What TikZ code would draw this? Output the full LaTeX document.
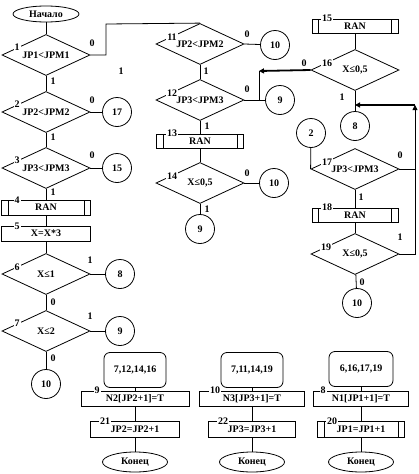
\documentclass[tikz,border=0pt]{standalone}
\usepackage{fontspec}
\setmainfont{Liberation Serif}
\usetikzlibrary{shapes.geometric, arrows.meta, positioning}

\begin{document}
\begin{tikzpicture}[
  x=1pt, y=-1pt, line width=0.8pt,
  every node/.style={font=\bfseries\fontsize{10}{12}\selectfont},
  decision/.style={diamond, draw, aspect=2.15, minimum width=88pt,
                   minimum height=41pt, inner sep=0pt},
  connector/.style={circle, draw, minimum size=29pt, inner sep=0pt},
  procbox/.style={rectangle, draw, minimum width=89pt, minimum height=15pt, inner sep=0pt},
  ranbox/.style={procbox, path picture={
      \draw ([xshift=6.5pt]path picture bounding box.north west) -- ([xshift=6.5pt]path picture bounding box.south west);
      \draw ([xshift=-6.5pt]path picture bounding box.north east) -- ([xshift=-6.5pt]path picture bounding box.south east);}},
  listbox/.style={rectangle, rounded corners=6pt, draw, minimum width=62pt, minimum height=35pt},
  terminal/.style={ellipse, draw, minimum width=65pt, minimum height=20pt, inner sep=0pt},
  num/.style={fill=white, inner sep=1pt},
  arrow/.style={line width=1.8pt, -{Triangle[length=5pt, width=5pt]}},
  uparrow/.style={-{Triangle[length=5pt, width=5pt]}}
]
\useasboundingbox (0,0) rectangle (418,474);

%--- Left column ---%
\node[terminal, minimum width=66pt, minimum height=16pt] (start) at (46,14) {Начало};
\node[decision] (d1) at (46,55)  {JP1<JPM1};
\node[decision] (d2) at (46,112) {JP2<JPM2};
\node[decision] (d3) at (46,168) {JP3<JPM3};
\node[ranbox]   (b4) at (46,207.5) {RAN};
\node[procbox]  (b5) at (46,233.5) {X=X*3};
\node[decision] (d6) at (46,274) {X≤1};
\node[decision] (d7) at (46,331) {X≤2};
\node[connector] (c10a) at (46,384) {10};

\node[connector] (c17) at (117,112) {17};
\node[connector] (c15) at (117,168) {15};
\node[connector] (c8a) at (120,274) {8};
\node[connector] (c9a) at (120,331) {9};

\coordinate (k1) at (106,24);

\draw (start) -- (d1);
\draw (d1) -- (d2);
\draw (d2) -- (d3);
\draw (d3) -- (b4);
\draw (b4) -- (b5);
\draw (b5) -- (d6);
\draw (d6) -- (d7);
\draw (d7) -- (c10a);
\draw (d2.east) -- (c17);
\draw (d3.east) -- (c15);
\draw (d6.east) -- (c8a);
\draw (d7.east) -- (c9a);

\node[num] (l1) at (17,47)  {1};
\node[num] (l2) at (17,104) {2};
\node[num] (l3) at (17,160) {3};
\node[num] (l4) at (17,200) {4};
\node[num] (l5) at (17,226) {5};
\node[num] (l6) at (17,267) {6};
\node[num] (l7) at (17,323) {7};
\node[num] (o1) at (92,43)  {0};
\node[num] (o2) at (92,100) {0};
\node[num] (o3) at (92,155) {0};
\node[num] (o6) at (90,260) {1};
\node[num] (o7) at (90,316) {1};
\node[num] (y1) at (53,81)  {1};
\node[num] (y2) at (53,137) {1};
\node[num] (y3) at (53,192) {1};
\node[num] (y6) at (53,302) {0};
\node[num] (y7) at (53,358) {0};
\node (t1) at (121,71) {1};

%--- Middle column ---%
\node[decision] (d11) at (200,44)  {JP2<JPM2};
\node[decision] (d12) at (200,100) {JP3<JPM3};
\node[ranbox, minimum width=87pt, minimum height=14pt] (b13) at (200,141) {RAN};
\node[decision] (d14) at (200,183) {X≤0,5};
\node[connector] (c9c) at (200,229) {9};
\node[connector] (c10b) at (275,45)  {10};
\node[connector] (c9b)  at (280,100) {9};
\node[connector] (c10c) at (274,183) {10};

\draw (d1.east) -| (k1) -- (d11.north);
\draw (d11) -- (d12);
\draw (d12) -- (b13);
\draw (b13) -- (d14);
\draw (d14) -- (c9c);
\draw (d11.east) -- (c10b);
\draw (d12.east) -- (c9b);
\draw (d14.east) -- (c10c);

\node[num] (l11) at (172,37)  {11};
\node[num] (l12) at (172,93)  {12};
\node[num] (l13) at (172,133) {13};
\node[num] (l14) at (172,176) {14};
\node[num] (o11) at (247,34)  {0};
\node[num] (o12) at (247,89)  {0};
\node[num] (o14) at (247,173) {0};
\node[num] (y11) at (206,71)  {1};
\node[num] (y12) at (207,126) {1};
\node[num] (y14) at (207,209) {1};

%--- Right column ---%
\node[ranbox, minimum width=86pt, minimum height=14pt] (b15) at (355,26) {RAN};
\node[decision] (d16) at (355,70) {X≤0,5};
\node[connector] (c8b) at (355,126) {8};
\node[connector] (c2)  at (311,133) {2};
\node[decision] (d17) at (355,169) {JP3<JPM3};
\node[ranbox, minimum width=86pt, minimum height=14pt] (b18) at (355,215) {RAN};
\node[decision] (d19) at (355,254) {X≤0,5};
\node[connector] (c10d) at (357,303) {10};

\coordinate (j9) at (259,71);
\coordinate (m9) at (259,100);
\coordinate (j8) at (355,105);
\coordinate (jr) at (415,105);
\coordinate (jr17) at (415,169);

\draw (b15) -- (d16);
\draw (d16) -- (c8b);
\draw (c2) -- (d17.west);
\draw (d17) -- (b18);
\draw (b18) -- (d19);
\draw (d19) -- (c10d);
\draw (d17.east) -- (jr17);
\draw[uparrow] (d19.east) -| (jr);
\draw[arrow] (jr) -- (j8);
\draw[arrow] (d16.west) -- (j9);
\draw (j9) -- (m9);

\node[num] (l15) at (327,18)  {15};
\node[num] (l16) at (327,63)  {16};
\node[num] (l17) at (327,162) {17};
\node[num] (l18) at (327,207) {18};
\node[num] (l19) at (326,247) {19};
\node[num] (o16) at (304,63)  {0};
\node[num] (o17) at (400,155) {0};
\node[num] (o19) at (400,237) {1};
\node[num] (y16) at (342,97)  {1};
\node[num] (y17) at (361,197) {1};
\node[num] (y19) at (362,282) {0};

%--- Bottom groups ---%
\node[listbox] (r1) at (135,370) {7,12,14,16};
\node[procbox, minimum width=108pt] (b9) at (135,398.5) {N2[JP2+1]=T};
\node[procbox, minimum height=16pt] (b21) at (135,429) {JP2=JP2+1};
\node[terminal] (e1) at (135,462) {Конец};
\node[num] (l9)  at (97,390)  {9};
\node[num] (l21) at (105,421) {21};

\node[listbox] (r2) at (252,370) {7,11,14,19};
\node[procbox, minimum width=105pt] (b10) at (252,398.5) {N3[JP3+1]=T};
\node[procbox, minimum width=87pt, minimum height=16pt] (b22) at (252,429) {JP3=JP3+1};
\node[terminal] (e2) at (252,462) {Конец};
\node[num] (l10) at (215,390) {10};
\node[num] (l22) at (223,421) {22};

\node[listbox, minimum width=64pt] (r3) at (361,369) {6,16,17,19};
\node[procbox, minimum width=95pt] (b8) at (361,398.5) {N1[JP1+1]=T};
\node[ranbox, minimum width=87pt, minimum height=16pt] (b20) at (361,429) {JP1=JP1+1};
\node[terminal] (e3) at (361,462) {Конец};
\node[num] (l8)  at (323,390) {8};
\node[num] (l20) at (332,421) {20};

\draw (r1) -- (b9);
\draw (b9) -- (b21);
\draw (b21) -- (e1);
\draw (r2) -- (b10);
\draw (b10) -- (b22);
\draw (b22) -- (e2);
\draw (r3) -- (b8);
\draw (b8) -- (b20);
\draw (b20) -- (e3);

\end{tikzpicture}
\end{document}
